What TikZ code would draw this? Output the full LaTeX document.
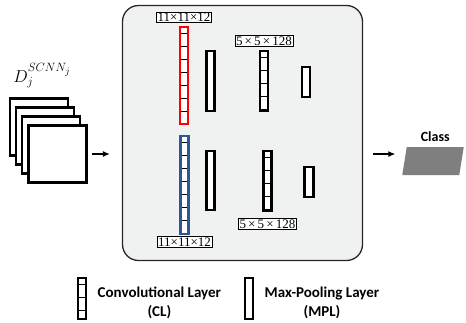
\documentclass[tikz,border=0pt]{standalone}
\usepackage{fontspec}
\setmainfont{Liberation Serif}
\newfontfamily\legendfont{Carlito}
\usetikzlibrary{positioning,arrows.meta}
\definecolor{panelgray}{HTML}{F0F1F1}
\definecolor{clblue}{HTML}{2F5597}
\definecolor{classgray}{HTML}{7F7F7F}

\begin{document}
\begin{tikzpicture}[
  x=1pt, y=-1pt,
  node distance = 3pt,
  panel/.style={draw=black!85, line width=1.3pt, rounded corners=16pt, fill=panelgray},
  sheet/.style={draw=black, line width=2.5pt, fill=white, minimum width=58pt, minimum height=57pt},
  convl/.style={draw=black, line width=2.4pt, fill=white, minimum width=8pt, inner sep=0pt,
    path picture={\foreach \k in {0,...,8}
      \draw[line width=0.5pt, black] ([yshift=-6pt-13pt*\k]path picture bounding box.north west)
        -- ([yshift=-6pt-13pt*\k]path picture bounding box.north east);}},
  pooll/.style={draw=black, line width=2.4pt, fill=white, minimum width=8pt, inner sep=0pt},
  dimbox/.style={draw=black, line width=0.6pt, fill=white, inner sep=1pt, font=\fontsize{13}{13}\selectfont},
  legtxt/.style={align=center, font=\legendfont\bfseries\fontsize{15}{19}\selectfont},
  arw/.style={-{Latex[length=7pt,width=6pt]}, line width=1.2pt}
  ]
\useasboundingbox (0,0) rectangle (466,322);

% panel
\node [panel, minimum width=240pt, minimum height=255pt] (panel) at (242.5,133) {};

% input stack
\node [sheet] (d1) at (39,127) {};
\node [sheet] (d2) at (45,136) {};
\node [sheet] (d3) at (51,145) {};
\node [sheet] (d4) at (57.5,154) {};
\node (dname) at (42,76) {\LARGE $D_j^{SCNN_j}$};

% upper branch
\node [convl, draw=red, minimum height=97pt] (c1) at (184,75.5) {};
\node [pooll, minimum height=60pt] (p1) at (210.5,81) {};
\node [convl, minimum height=60pt] (c2) at (264,81) {};
\node [pooll, minimum height=30pt] (p2) at (306,82) {};
\node [dimbox, above=of c1] (c1dim) {11×11×12};
\node [dimbox, above=of c2] (c2dim) {5\,×\,5\,×\,128};

% lower branch
\node [convl, draw=clblue, minimum height=98pt] (c3) at (184.5,185) {};
\node [pooll, minimum height=59pt] (p3) at (210.5,180.5) {};
\node [convl, minimum height=60pt] (c4) at (267.5,181) {};
\node [pooll, minimum height=30pt, minimum width=9pt] (p4) at (309,182) {};
\node [dimbox, below=1pt of c3] (c3dim) {11×11×12};
\node [dimbox, below=6pt of c4] (c4dim) {5\,×\,5\,×\,128};

% output
\begin{scope}[shift={(433,161)}, xslant=0.16]
\node [fill=classgray, minimum width=57pt, minimum height=28pt, inner sep=0pt, transform shape] (cls) {};
\end{scope}
\node [legtxt, font=\legendfont\bfseries\fontsize{14}{15}\selectfont, above=2pt of cls] (clsname) {Class};

\draw [arw, shorten <=4pt, shorten >=12pt] (d4.east) -- (d4.east -| panel.west);
\draw [arw, shorten <=10pt, shorten >=9pt] (d4.east -| panel.east) -- (d4.east -| cls.west);

% legend
\node [convl, minimum height=41pt] (lc) at (82,298.5) {};
\node [legtxt, right=7pt of lc, yshift=-4pt] (lctext) {Convolutional Layer\\(CL)};
\node [pooll, minimum height=41pt] (lp) at (249,298.5) {};
\node [legtxt, right=7pt of lp, yshift=-4pt] (lptext) {Max-Pooling Layer\\(MPL)};

\end{tikzpicture}
\end{document}
